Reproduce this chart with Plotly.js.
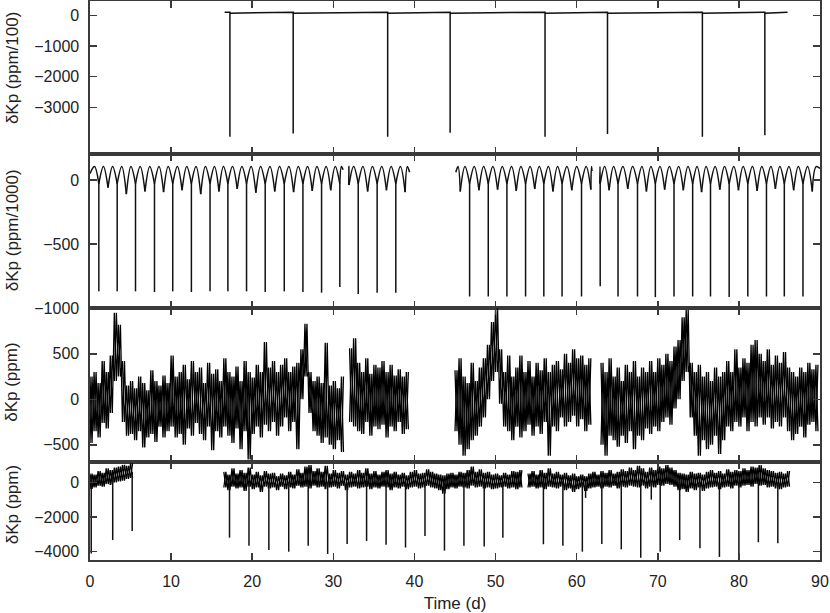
<!DOCTYPE html>
<html>
<head>
<meta charset="utf-8">
<script src="https://cdn.plot.ly/plotly-3.0.1.min.js"></script>
<style>
  html, body { margin: 0; padding: 0; background: #fff; }
  #chart { width: 830px; height: 613px; }
</style>
</head>
<body>
<div id="chart"></div>
<script>
/////
///// Data (time in days, flux in the panel's own units)
/////

// Panel 1: deep eclipses on a flat baseline (ppm/100)
let p1Span = [16.6, 86.0];
let p1DipTimes = [17.25, 25.05, 36.7, 44.4, 56.1, 63.8, 75.5, 83.2];
let p1DipDepths = [-3960, -3850, -3960, -3830, -3960, -3870, -3960, -3910];
let p1Before = 100;
let p1After = 70;

// Panel 2: eclipsing binary with primary + secondary minima (ppm/1000)
let p2Segments = [[0.0, 31.2], [31.9, 39.4], [45.1, 61.9], [62.85, 90.0]];
let p2SegStart = [50, -40, 60, -30];
let p2SegEnd = [80, 60, 70, 90];
let p2Primary = [1.09, 3.35, 5.61, 7.95, 10.2, 12.5, 14.8, 17.0, 19.3, 21.6, 23.95, 26.25, 28.55, 30.8,
                 33.07, 35.4, 37.7,
                 46.8, 49.1, 51.4, 53.7, 55.95, 58.2, 60.6, 62.9,
                 65.1, 67.5, 69.7, 72.0, 74.3, 76.5, 78.8, 81.1, 83.4, 85.6, 87.9];
let p2PrimaryDepth = [-870, -870, -870, -875, -870, -875, -870, -870, -870, -875, -870, -875, -880, -835,
                      -890, -880, -880,
                      -910, -910, -910, -910, -910, -910, -910, -830,
                      -910, -910, -915, -910, -910, -910, -915, -910, -910, -910, -910];
let p2Secondary = [2.22, 4.48, 6.78, 9.07, 11.35, 13.65, 15.9, 18.15, 20.45, 22.78, 25.1, 27.4, 29.68,
                   31.93, 34.23, 36.55, 38.85,
                   45.65, 47.95, 50.25, 52.55, 54.83, 57.08, 59.4, 61.75,
                   64.0, 66.3, 68.6, 70.85, 73.15, 75.4, 77.65, 79.95, 82.25, 84.5, 86.75, 89.05];
let p2SecondaryDepth = [-60, -110, -90, -95, -80, -110, -90, -70, -100, -90, -95, -85, -80,
                        -40, -90, -80, -95,
                        -90, -80, -75, -85, -70, -90, -80, -75,
                        -80, -70, -90, -75, -80, -95, -75, -80, -85, -70, -80, -90];
let p2Shoulder = -30;
let p2Hump = 105;

// Panel 3: residual noise envelope, sampled every half day (ppm)
let p3Start = [0.0, 32.0, 45.0, 63.0];
let p3Hi = [
  [250, 300, 180, 420, 300, 480, 950, 820, 420, 150, 200, 120, 250, 180, 100, 320, 200, 150, 260, 180,
   480, 250, 300, 380, 220, 420, 300, 350, 180, 400, 280, 330, 200, 450, 300, 250, 360, 200, 420, 300,
   240, 380, 300, 630, 350, 420, 300, 380, 450, 300, 360, 400, 550, 830, 300, 200, 250, 180, 620, 150,
   200, 120, 250],
  [560, 670, 400, 300, 450, 280, 380, 350, 420, 300, 380, 260, 330, 250, 300],
  [320, 450, 250, 180, 400, 200, 350, 450, 600, 850, 1000, 550, 300, 480, 250, 350, 480, 300, 420, 250,
   400, 320, 450, 300, 380, 420, 330, 500, 400, 550, 450, 480, 380, 450],
  [400, 300, 450, 250, 350, 200, 380, 300, 420, 250, 350, 300, 420, 300, 450, 380, 500, 420, 580, 650,
   900, 980, 400, 300, 380, 250, 300, 200, 350, 250, 300, 420, 300, 550, 350, 450, 400, 600, 650, 500,
   420, 550, 380, 480, 400, 520, 350, 300, 250, 350, 300, 400, 330, 380]
];
let p3Lo = [
  [-480, -350, -420, -260, -320, -150, 200, 250, -250, -400, -380, -450, -350, -530, -420, -380, -470, -300, -420, -350,
   -300, -420, -380, -500, -320, -400, -260, -380, -450, -300, -560, -350, -420, -300, -400, -480, -320, -550, -350, -660,
   -380, -300, -420, -280, -350, -250, -400, -300, -200, -350, -250, -550, 0, 250, -150, -350, -400, -480, -420, -500,
   -550, -450, -580],
  [-250, -300, -350, -380, -250, -400, -300, -330, -280, -420, -300, -350, -250, -380, -330],
  [-350, -500, -620, -550, -450, -400, -300, -200, 0, 200, 300, -50, -300, -350, -450, -300, -420, -350, -280, -400,
   -300, -380, -250, -620, -300, -350, -200, -300, -250, -180, -300, -220, -350, -280],
  [-500, -620, -400, -450, -520, -400, -480, -350, -550, -400, -450, -320, -380, -300, -350, -250, -200, -280, -100, 0,
   200, 300, -200, -400, -620, -450, -550, -500, -400, -600, -450, -300, -350, -250, -300, -200, -350, -250, -300, -200,
   -280, -200, -320, -250, -300, -200, -350, -450, -380, -300, -420, -280, -250, -350]
];

// Panel 4: noisy transit light curve, envelope every half day plus transit depths (ppm)
let p4Start = [0.0, 16.5, 54.0];
let p4Hi = [
  [500, 450, 650, 550, 800, 700, 850, 900, 1000, 950, 1100],
  [600, 450, 800, 500, 700, 550, 850, 450, 600, 400, 650, 500, 550, 350, 500, 400, 600, 450, 750, 550,
   900, 1000, 650, 800, 600, 950, 500, 700, 550, 650, 450, 600, 500, 700, 550, 800, 500, 650, 450, 600,
   700, 500, 600, 450, 550, 400, 600, 700, 500, 550, 750, 600, 500, 450, 400, 500, 550, 450, 600, 550,
   700, 900, 600, 750, 550, 600, 450, 500, 400, 550, 450, 650, 600, 700],
  [500, 650, 450, 700, 550, 800, 500, 600, 450, 550, 400, 500, 350, 450, 350, 500, 600, 450, 650, 550,
   700, 500, 600, 750, 650, 850, 700, 950, 800, 600, 850, 700, 900, 800, 1000, 850, 700, 550, 500, 450,
   600, 500, 550, 450, 600, 700, 550, 650, 500, 750, 600, 700, 650, 800, 700, 900, 850, 1000, 800, 700,
   650, 550, 600, 500, 650]
];
let p4Lo = [
  [-380, -300, -200, -250, -100, -150, 0, 50, 100, 200, 250],
  [-300, -450, -250, -350, -300, -500, -250, -400, -300, -550, -250, -350, -300, -450, -250, -400, -300, -350, -200, -300,
   -250, -350, -200, -300, -250, -400, -300, -250, -350, -200, -450, -300, -250, -350, -300, -250, -400, -300, -350, -250,
   -300, -450, -300, -350, -250, -400, -300, -250, -350, -300, -200, -300, -350, -450, -650, -400, -300, -350, -250, -300,
   -350, -200, -300, -250, -350, -300, -400, -350, -300, -250, -350, -300, -400, -300],
  [-300, -250, -350, -300, -400, -250, -300, -350, -250, -450, -350, -550, -400, -300, -500, -350, -300, -250, -350, -250,
   -300, -200, -350, -250, -300, -200, -250, -300, -200, -350, -250, -300, -150, -200, -100, -150, -250, -450, -400, -550,
   -350, -450, -300, -500, -350, -300, -250, -400, -300, -250, -350, -200, -300, -200, -150, -250, -100, -200, -150, -300,
   -250, -350, -400, -300, -250]
];
let p4DipTimes = [0.15, 2.8, 5.2, 17.2, 19.6, 22.05, 24.5, 26.9, 29.3, 31.7, 34.1, 36.5, 38.9, 41.3, 43.7, 46.1,
                  48.6, 50.9, 55.9, 58.3, 60.7, 61.1, 63.1, 65.5, 67.9, 69.2, 70.3, 72.7, 75.2, 77.6, 80.0, 82.4, 84.8];
let p4DipDepths = [-4100, -3330, -2800, -3190, -3650, -3900, -4000, -3650, -4130, -3550, -3380, -3600, -3760, -3100, -3940, -3650,
                   -3700, -3190, -3570, -3650, -4000, -900, -3550, -3860, -4350, -1000, -4000, -3330, -3800, -4300, -4480, -3450, -3510];
let p4DipTop = [300, 400, 600, 0, 0, 0, 0, 0, 0, 0, 0, 0, 0, 0, 0, 0,
                0, 0, 0, 0, 0, 0, 0, 0, 0, 0, 0, 0, 0, 0, 0, 0, 0];

let halfDay = 0.5;

/////
///// Building the line traces
/////

function panel1Trace() {
    let x = [p1Span[0]];
    let y = [p1Before];
    for (let i = 0; i < p1DipTimes.length; i++) {
        x.push(p1DipTimes[i], p1DipTimes[i], p1DipTimes[i]);
        y.push(p1Before, p1DipDepths[i], p1After);
    }
    x.push(p1Span[1]);
    y.push(p1Before);
    return [x, y];
}

function panel2Traces() {
    let events = [];
    for (let i = 0; i < p2Primary.length; i++) {
        events.push([p2Primary[i], p2Shoulder]);
    }
    for (let i = 0; i < p2Secondary.length; i++) {
        events.push([p2Secondary[i], p2SecondaryDepth[i]]);
    }
    events.sort((a, b) => a[0] - b[0]);

    let ax = [], ay = [];
    for (let s = 0; s < p2Segments.length; s++) {
        let a = p2Segments[s][0];
        let b = p2Segments[s][1];
        let pts = [[a, p2SegStart[s]]];
        events.forEach(e => { if (e[0] > a && e[0] < b) pts.push(e); });
        pts.push([b, p2SegEnd[s]]);
        for (let k = 0; k < pts.length - 1; k++) {
            let p = pts[k], q = pts[k+1];
            ax.push(p[0], (p[0] + q[0]) / 2, q[0], null);
            ay.push(p[1], p2Hump, q[1], null);
        }
    }

    let sx = [], sy = [];
    for (let i = 0; i < p2Primary.length; i++) {
        sx.push(p2Primary[i], p2Primary[i], null);
        sy.push(p2Shoulder, p2PrimaryDepth[i], null);
    }
    return [ax, ay, sx, sy];
}

// the half-day envelope drawn as two interleaved zigzags (high->low and low->high)
function zigzag(starts, his, los, flip) {
    let x = [], y = [];
    for (let s = 0; s < starts.length; s++) {
        for (let i = 0; i < his[s].length; i++) {
            x.push(starts[s] + i*halfDay, starts[s] + i*halfDay + halfDay/2);
            if (flip) {
                y.push(los[s][i], his[s][i]);
            } else {
                y.push(his[s][i], los[s][i]);
            }
        }
        x.push(null);
        y.push(null);
    }
    return [x, y];
}

function dipSpikes(times, tops, depths) {
    let x = [], y = [];
    for (let i = 0; i < times.length; i++) {
        x.push(times[i], times[i], null);
        y.push(tops[i], depths[i], null);
    }
    return [x, y];
}

let p1 = panel1Trace();
let p2 = panel2Traces();
let p3a = zigzag(p3Start, p3Hi, p3Lo, false);
let p3b = zigzag(p3Start, p3Hi, p3Lo, true);
let p4a = zigzag(p4Start, p4Hi, p4Lo, false);
let p4b = zigzag(p4Start, p4Hi, p4Lo, true);
let p4s = dipSpikes(p4DipTimes, p4DipTop, p4DipDepths);

let ink = '#111';
let noise = { color: '#000', width: 1.3 };

let traces = [
    { x: p1[0], y: p1[1], xaxis: 'x', yaxis: 'y', mode: 'lines', type: 'scatter',
      line: { color: ink, width: 1.5 }, hoverinfo: 'skip' },
    { x: p2[0], y: p2[1], xaxis: 'x2', yaxis: 'y2', mode: 'lines', type: 'scatter',
      line: { color: ink, width: 1.5, shape: 'spline', smoothing: 1 }, hoverinfo: 'skip' },
    { x: p2[2], y: p2[3], xaxis: 'x2', yaxis: 'y2', mode: 'lines', type: 'scatter',
      line: { color: ink, width: 1.5 }, hoverinfo: 'skip' },
    { x: p3a[0], y: p3a[1], xaxis: 'x3', yaxis: 'y3', mode: 'lines', type: 'scatter',
      line: noise, hoverinfo: 'skip' },
    { x: p3b[0], y: p3b[1], xaxis: 'x3', yaxis: 'y3', mode: 'lines', type: 'scatter',
      line: noise, hoverinfo: 'skip' },
    { x: p4a[0], y: p4a[1], xaxis: 'x4', yaxis: 'y4', mode: 'lines', type: 'scatter',
      line: noise, hoverinfo: 'skip' },
    { x: p4b[0], y: p4b[1], xaxis: 'x4', yaxis: 'y4', mode: 'lines', type: 'scatter',
      line: noise, hoverinfo: 'skip' },
    { x: p4s[0], y: p4s[1], xaxis: 'x4', yaxis: 'y4', mode: 'lines', type: 'scatter',
      line: { color: ink, width: 1.5 }, hoverinfo: 'skip' }
];

/////
///// Layout
/////

let frame = '#3a3a3a';
let font = { family: 'Liberation Sans, Arial, Helvetica, sans-serif', size: 16, color: '#222' };

function xAxis(anchor, labels) {
    return {
        anchor: anchor, range: [0, 90], tickvals: [0, 10, 20, 30, 40, 50, 60, 70, 80, 90],
        showticklabels: labels, ticks: 'inside', ticklen: 7, tickwidth: 1.5, tickcolor: frame,
        showline: true, mirror: 'ticks', linecolor: frame, linewidth: 1.6,
        showgrid: false, zeroline: false, tickfont: font, ticklabelstandoff: 6
    };
}

function yAxis(anchor, domain, range, tickvals) {
    return {
        anchor: anchor, domain: domain, range: range, tickvals: tickvals,
        ticks: 'inside', ticklen: 7, tickwidth: 1.5, tickcolor: frame,
        showline: true, mirror: 'ticks', linecolor: frame, linewidth: 1.6,
        showgrid: false, zeroline: false, tickfont: font, ticklabelstandoff: 6
    };
}

let yTitles = ['δKp (ppm/100)', 'δKp (ppm/1000)', 'δKp (ppm)', 'δKp (ppm)'];
let yTitlePos = [0.880, 0.590, 0.317, 0.098];

let layout = {
    width: 830, height: 613,
    margin: { l: 90, r: 10, t: 1, b: 53 },
    paper_bgcolor: '#fff', plot_bgcolor: '#fff',
    showlegend: false,
    font: font,
    xaxis: xAxis('y', false),
    xaxis2: xAxis('y2', false),
    xaxis3: xAxis('y3', false),
    xaxis4: Object.assign(xAxis('y4', true), {
        title: { text: 'Time (d)', font: { family: font.family, size: 17, color: '#222' }, standoff: 8 }
    }),
    yaxis: yAxis('x', [0.7263, 1], [-4522, 466], [-3000, -2000, -1000, 0]),
    yaxis2: yAxis('x2', [0.4508, 0.7263], [-1000, 203], [-1000, -500, 0]),
    yaxis3: yAxis('x3', [0.1753, 0.4508], [-689, 1003], [-500, 0, 500]),
    yaxis4: yAxis('x4', [0, 0.1753], [-4478, 1170], [-4000, -2000, 0]),
    annotations: yTitles.map((t, i) => ({
        text: t, xref: 'paper', yref: 'paper', x: -0.1068, y: yTitlePos[i],
        xanchor: 'center', yanchor: 'middle', textangle: -90, showarrow: false,
        font: { family: font.family, size: 17, color: '#222' }
    }))
};

Plotly.newPlot('chart', traces, layout, { staticPlot: true, displayModeBar: false });
</script>
</body>
</html>
